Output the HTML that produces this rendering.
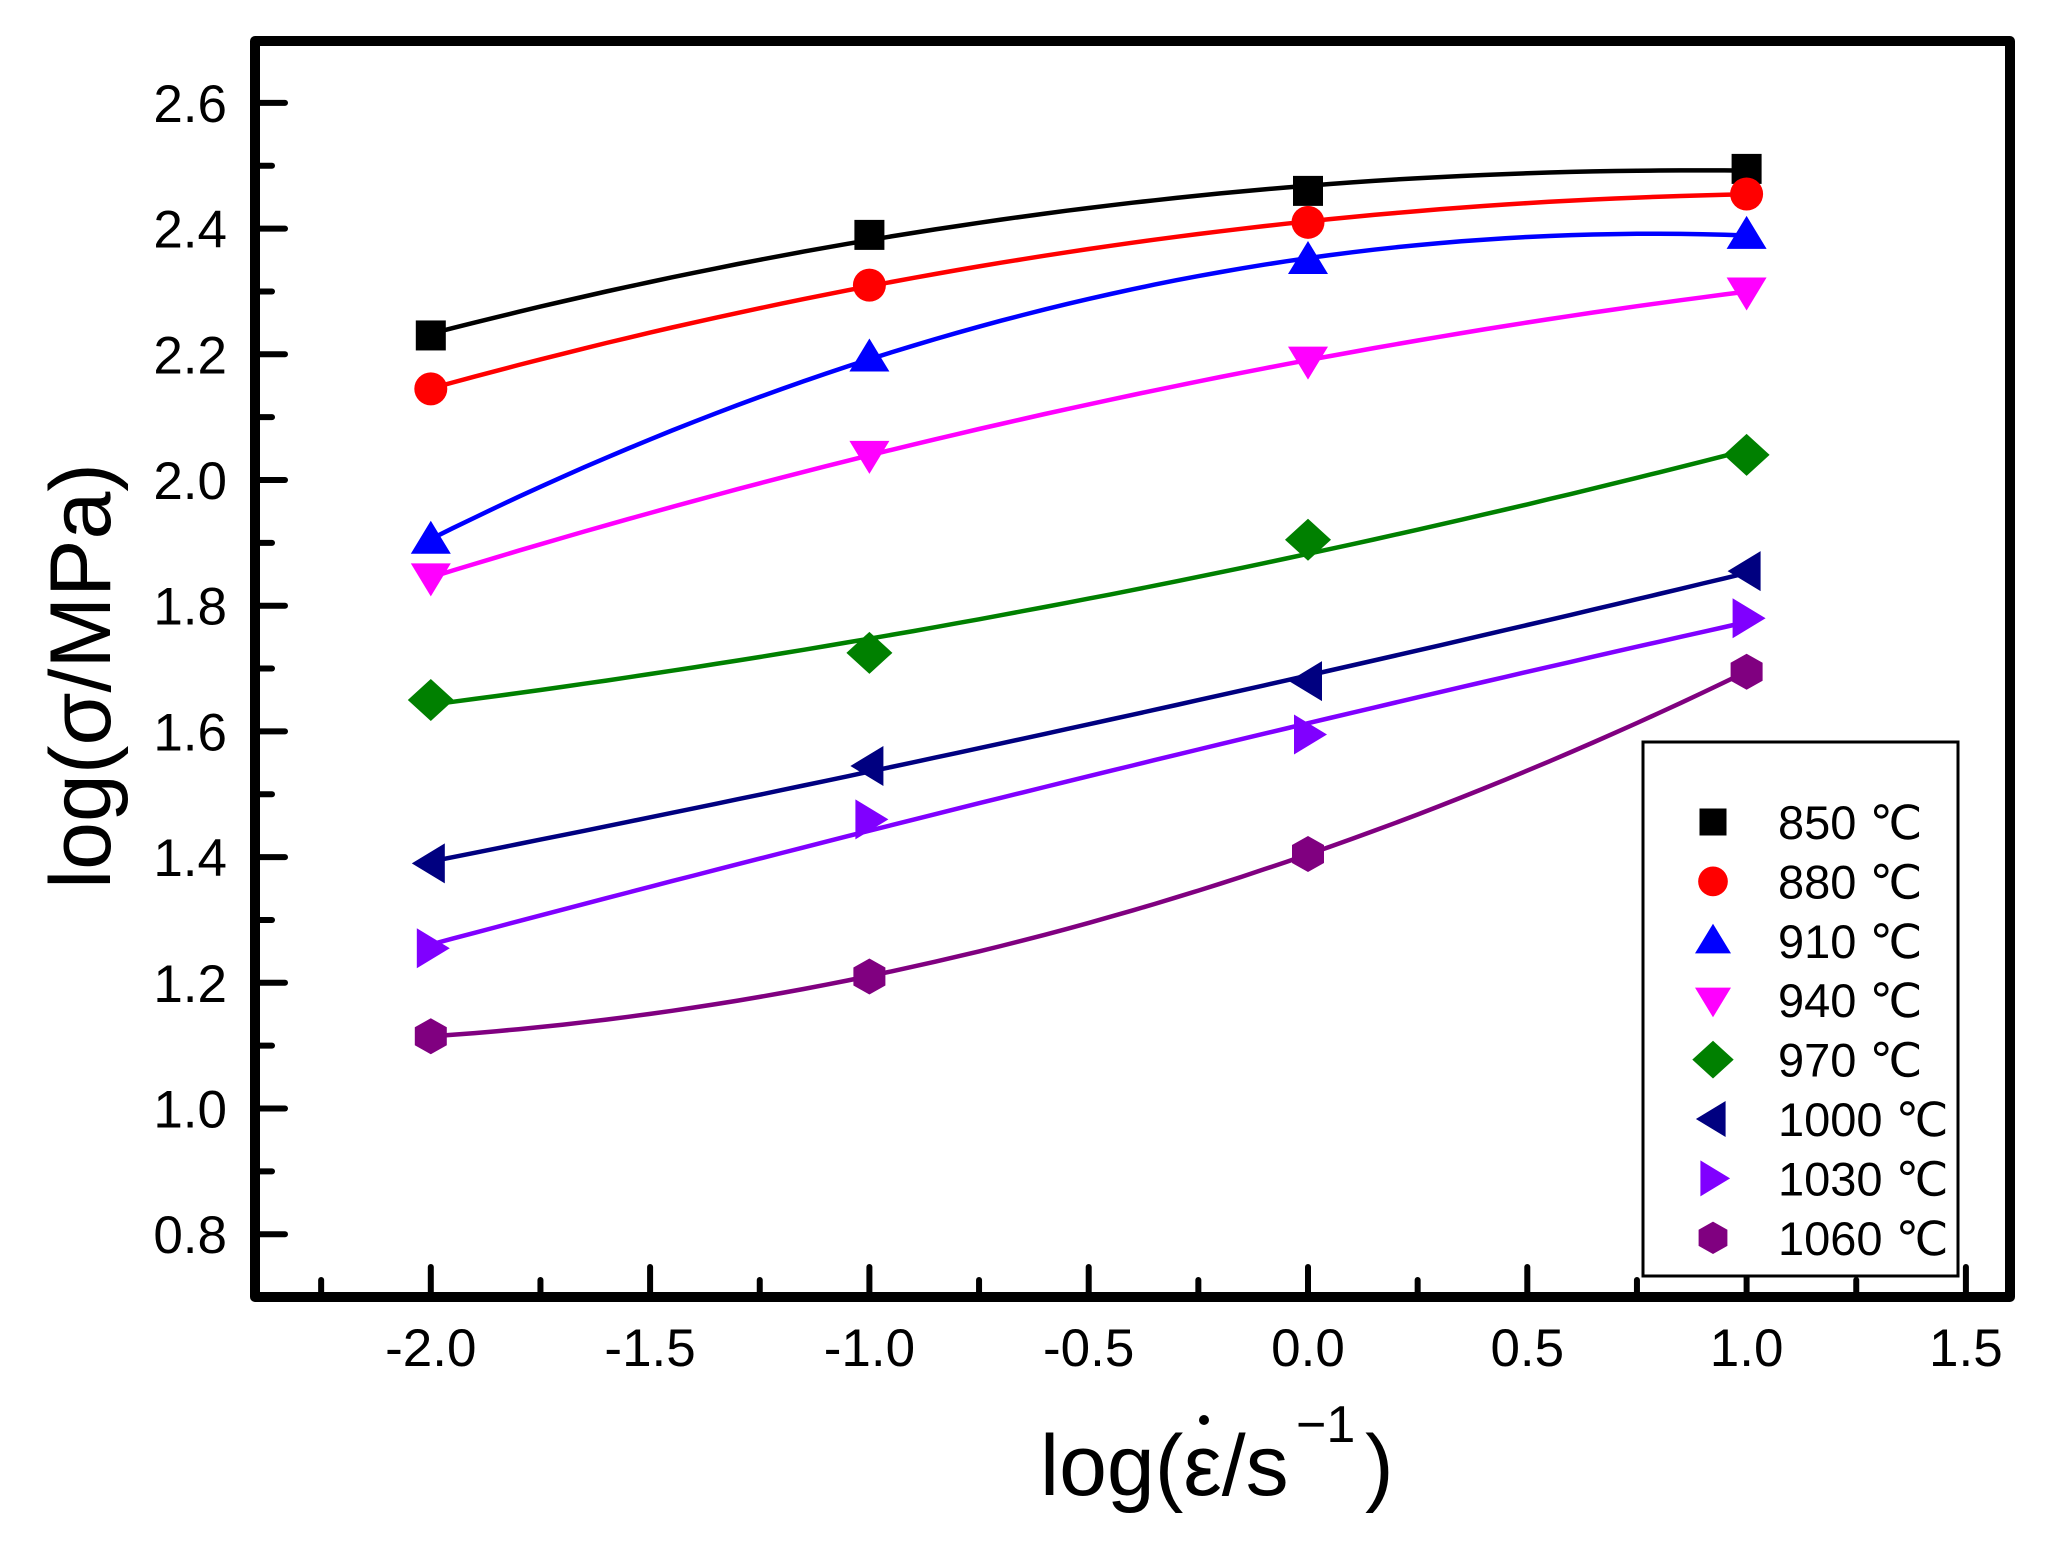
<!DOCTYPE html>
<html><head><meta charset="utf-8"><style>
html,body{margin:0;padding:0;background:#fff;}
svg{display:block;}
text{font-family:"Liberation Sans","DejaVu Sans",sans-serif;}
</style></head><body>
<svg id="s" width="2047" height="1553" viewBox="0 0 2047 1553" xmlns="http://www.w3.org/2000/svg">
<rect width="2047" height="1553" fill="#fff"/>
<g id="curves"></g>
<g id="marks"></g>
<g id="ticks" stroke="#000" stroke-width="6" stroke-linecap="round"></g>
<rect x="255" y="41" width="1755" height="1256" fill="none" stroke="#000" stroke-width="10" stroke-linejoin="round"/>
<g id="labels" font-size="53" fill="#000"></g>
<text x="1040" y="1495" font-size="86">log(ε/s</text>
<circle cx="1204" cy="1420" r="5" fill="#000"/>
<text x="1296" y="1442" font-size="52">−1</text>
<text x="1365" y="1495" font-size="86">)</text>
<text transform="translate(110,676) rotate(-90)" text-anchor="middle" font-size="86">log(σ/MPa)</text>
<rect x="1643" y="742" width="315" height="534" fill="#fff" stroke="#000" stroke-width="3"/>
<g id="legend" font-size="47" fill="#000"></g>
</svg>
<script>
const NS="http://www.w3.org/2000/svg";
const X=v=>1308+438.6*v, Y=v=>480-(v-2)*628.5;
function el(p,tag,a,txt){const e=document.createElementNS(NS,tag);for(const k in a)e.setAttribute(k,a[k]);if(txt!==undefined)e.textContent=txt;document.getElementById(p).appendChild(e);return e;}
for(let i=0;i<=20;i++){const v=0.7+i*0.1;const y=Y(v);if(y<50||y>1290)continue;const maj=Math.abs((v*10)%2)<0.01||Math.abs((v*10)%2-2)<0.01;
 el("ticks","line",{x1:258,y1:y,x2:maj?285:272,y2:y});}
for(let i=0;i<=16;i++){const v=-2.25+i*0.25;const x=X(v);if(x<260||x>2005)continue;const maj=Math.abs(v*2-Math.round(v*2))<0.01;
 el("ticks","line",{x1:x,y1:1293,x2:x,y2:maj?1267:1280});}
for(const v of [0.8,1.0,1.2,1.4,1.6,1.8,2.0,2.2,2.4,2.6]) el("labels","text",{x:227,y:Y(v)+19,"text-anchor":"end"},v.toFixed(1));
for(const v of [-2,-1.5,-1,-0.5,0,0.5,1,1.5]) el("labels","text",{x:X(v),y:1366,"text-anchor":"middle"},v.toFixed(1));
const S=[
["#000","sq",[2.23,2.39,2.46,2.495],"850"],
["#ff0000","ci",[2.145,2.31,2.41,2.455],"880"],
["#0000ff","tu",[1.905,2.195,2.35,2.39],"910"],
["#ff00ff","td",[1.845,2.04,2.19,2.30],"940"],
["#008000","di",[1.65,1.725,1.905,2.04],"970"],
["#000080","tl",[1.39,1.545,1.68,1.855],"1000"],
["#8000ff","tr",[1.255,1.46,1.595,1.78],"1030"],
["#800080","hx",[1.115,1.21,1.405,1.695],"1060"]];
function mk(p,t,x,y,c,s){s=s||1;
 if(t=="sq")return el(p,"rect",{x:x-15*s,y:y-15*s,width:30*s,height:30*s,fill:c});
 if(t=="ci")return el(p,"circle",{cx:x,cy:y,r:16.5*s,fill:c});
 const pts={tu:[[0,-19],[20,14],[-20,14]],td:[[0,19],[20,-14],[-20,-14]],tl:[[-19,0],[14,-20],[14,20]],tr:[[19,0],[-14,-20],[-14,20]],di:[[0,-21],[23,0],[0,21],[-23,0]],hx:[[0,-18],[16,-9],[16,9],[0,18],[-16,9],[-16,-9]]}[t];
 return el(p,"polygon",{points:pts.map(q=>(x+q[0]*s)+","+(y+q[1]*s)).join(" "),fill:c});}
const xs=[-2,-1,0,1];
S.forEach((s,i)=>{
 const ys=s[2];let A=[[0,0,0],[0,0,0],[0,0,0]],b=[0,0,0];
 xs.forEach((x,j)=>{const f=[1,x,x*x];for(let r=0;r<3;r++){b[r]+=f[r]*ys[j];for(let c=0;c<3;c++)A[r][c]+=f[r]*f[c];}});
 for(let r=0;r<3;r++){for(let k=r+1;k<3;k++){const m=A[k][r]/A[r][r];for(let c=0;c<3;c++)A[k][c]-=m*A[r][c];b[k]-=m*b[r];}}
 const co=[0,0,0];for(let r=2;r>=0;r--){let sm=b[r];for(let c=r+1;c<3;c++)sm-=A[r][c]*co[c];co[r]=sm/A[r][r];}
 let d="";for(let k=0;k<=60;k++){const x=-2+3*k/60;const y=co[0]+co[1]*x+co[2]*x*x;d+=(k?"L":"M")+X(x).toFixed(1)+","+Y(y).toFixed(1);}
 el("curves","path",{d:d,fill:"none",stroke:s[0],"stroke-width":4.5});
 xs.forEach((x,j)=>mk("marks",s[1],X(x),Y(ys[j]),s[0]));
 const ly=822+i*59.4;
 mk("legend",s[1],1713,ly,s[0],0.9);
 el("legend","text",{x:1778,y:ly+17},s[3]+" ℃");
});
</script>
</body></html>
